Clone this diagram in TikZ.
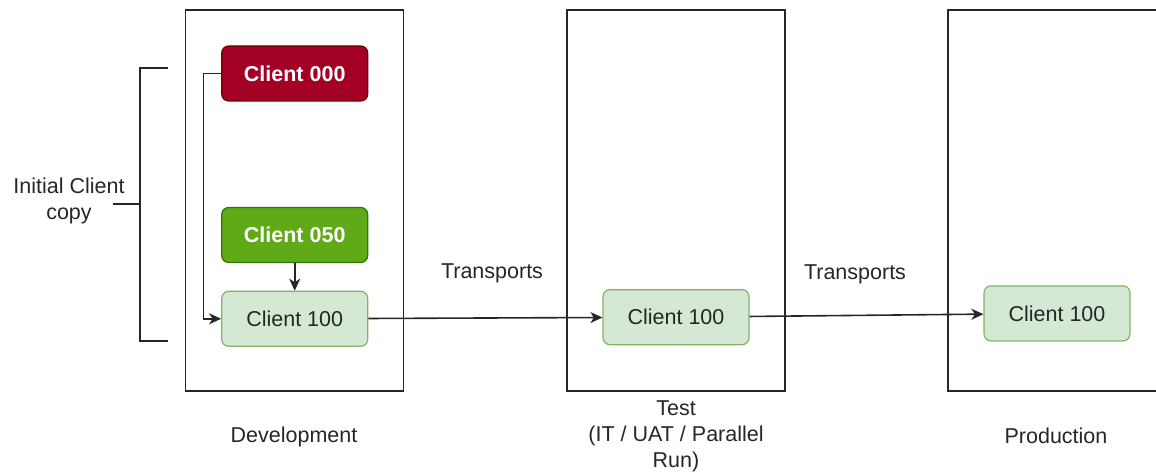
\documentclass[tikz,border=0pt]{standalone}
\usepackage{fontspec}
\setmainfont{Liberation Sans}
\usetikzlibrary{positioning,arrows.meta}
\definecolor{redfill}{HTML}{A20025}
\definecolor{redline}{HTML}{6F0000}
\definecolor{greenfill}{HTML}{60A917}
\definecolor{greenline}{HTML}{2D7600}
\definecolor{lightfill}{HTML}{D5E8D4}
\definecolor{lightline}{HTML}{82B366}
\newcommand{\txtsize}{\fontsize{21.5}{26}\selectfont}

\begin{document}
\begin{tikzpicture}[x=1pt,y=-1pt]
  \tikzstyle{env}=[rectangle, draw=black!85, line width=1.9pt, minimum width=218pt, minimum height=381pt, inner sep=0pt]
  \tikzstyle{client}=[rectangle, rounded corners=7pt, minimum width=146pt, minimum height=55pt, line width=1.2pt, font=\txtsize]
  \tikzstyle{light}=[client, fill=lightfill, draw=lightline, text=black!85]
  \tikzstyle{lbl}=[align=center, font=\txtsize, text=black!85]
  \tikzstyle{connect}=[-{Stealth[length=12pt,width=11pt,inset=3.5pt]}, line width=1.6pt, black!85]

  \useasboundingbox (0,0) rectangle (1156,473);
  % environments
  \node[env] (dev) at (294.5,200.5) {};
  \node[env] (test) at (676,200.5) {};
  \node[env] (prod) at (1057,200.5) {};

  % clients
  \node[client, fill=redfill, draw=redline, text=white, font=\txtsize\bfseries] (c000) at (294.7,73.5) {Client 000};
  \node[client, fill=greenfill, draw=greenline, text=white, font=\txtsize\bfseries] (c050) at (294.7,235) {Client 050};
  \node[light] (c100d) at (294.7,318.8) {Client 100};
  \node[light] (c100t) at (676,317.2) {Client 100};
  \node[light] (c100p) at (1057,313.4) {Client 100};

  \path
  (c050) edge [connect] (c100d)
  (c100d) edge [connect] (c100t)
  (c100t) edge [connect] (c100p);
  \draw[connect] (c000.west) -- ++(-17.7,0) |- (c100d.west);

  % bracket
  \draw[line width=1.6pt, black!85] (167.7,68.3) -- (140,68.3) -- (140,340.7) -- (167.7,340.7);
  \draw[line width=1.6pt, black!85] (113.3,204.3) -- (140,204.3);
  \node[lbl] (initial) at (69,201) {Initial Client\\copy};

  % labels
  \node[lbl] (tr1) at (492,273) {Transports};
  \node[lbl] (tr2) at (855,274) {Transports};
  \node[lbl] (devlbl) at (294,437) {Development};
  \node[lbl] (testlbl) at (676,436) {Test\\(IT / UAT / Parallel\\Run)};
  \node[lbl] (prodlbl) at (1056,436) {Production};
\end{tikzpicture}
\end{document}
